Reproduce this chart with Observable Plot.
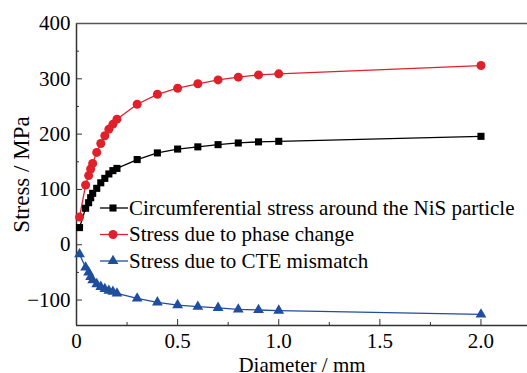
<!DOCTYPE html>
<html>
<head>
<meta charset="utf-8">
<script src="https://cdn.jsdelivr.net/npm/d3@7"></script>
<script src="https://cdn.jsdelivr.net/npm/@observablehq/plot@0.6"></script>
<style>
  html, body { margin: 0; padding: 0; background: #fff; }
  #chart svg { display: block; }
</style>
</head>
<body>
<div id="chart"></div>
<script>
// Diameter (mm)
const diameter = [0.015, 0.045, 0.06, 0.07, 0.08, 0.1, 0.12, 0.14, 0.16, 0.18, 0.2, 0.3, 0.4, 0.5, 0.6, 0.7, 0.8, 0.9, 1.0, 2.0];
// Stress series (MPa)
const circumferential = [31, 66, 76, 85, 93, 102, 112, 120, 128, 134, 138, 154, 166, 173, 177, 181, 184, 186, 187, 196];
const phaseChange = [50, 108, 125, 137, 147, 167, 183, 197, 209, 218, 227, 254, 272, 283, 291, 298, 303, 307, 309, 324];
const cteMismatch = [-17, -41, -50, -58, -64, -71, -76, -80, -83, -85, -88, -97, -104, -109, -112, -114, -117, -118, -119, -126];

const seriesNames = ["Circumferential stress around the NiS particle", "Stress due to phase change", "Stress due to CTE mismatch"];
const seriesColors = ["#000000", "#e0202b", "#1f4e9f"];
const seriesSymbols = ["square", "circle", "triangle"];
const seriesR = [4, 4.5, 4];

const xMajorTicks = [0, 0.5, 1.0, 1.5, 2.0];
const xMinorTicks = [0.25, 0.75, 1.25, 1.75];
const yMajorTicks = [-100, 0, 100, 200, 300, 400];
const yMinorTicks = [-50, 50, 150, 250, 350];
const xDomain = [0, 2.23];
const yDomain = [-146, 400];

const allSeries = [circumferential, phaseChange, cteMismatch];
const data = [];
allSeries.forEach((vals, s) => {
  vals.forEach((v, i) => data.push({series: seriesNames[s], x: diameter[i], y: v}));
});

const W = 527, H = 373;
const mL = 76, mR = 0, mT = 23, mB = 48;
const frameH = H - mT - mB;
const frameW = W - mL - mR;
const font = "Liberation Serif, Times New Roman, serif";
const axisColor = "#333";

const colorScale = {domain: seriesNames, range: seriesColors};
const symbolScale = {domain: seriesNames, range: seriesSymbols};

function legendMark(index, scales, values, dims) {
  const g = d3.create("svg:g").attr("text-anchor", "start");
  const rowStep = 26.5;
  seriesNames.forEach((name, i) => {
    const cy = dims.marginTop + 185 + i * rowStep;
    const x0 = dims.marginLeft + 24, x1 = dims.marginLeft + 52, xm = dims.marginLeft + 37;
    g.append("line").attr("x1", x0).attr("x2", x1).attr("y1", cy).attr("y2", cy)
      .attr("stroke", seriesColors[i]).attr("stroke-width", 1.3);
    const symType = {square: d3.symbolSquare, circle: d3.symbolCircle, triangle: d3.symbolTriangle}[seriesSymbols[i]];
    g.append("path").attr("d", d3.symbol(symType, Math.PI * seriesR[i] * seriesR[i])())
      .attr("transform", `translate(${xm},${cy})`).attr("fill", seriesColors[i]);
    g.append("text").attr("x", x1 + 1).attr("y", cy).attr("dy", "0.33em")
      .attr("text-anchor", "start")
      .style("font-family", font)
      .style("font-size", "21px").attr("fill", "#000").text(name);
  });
  return g.node();
}

const fmtY = d => d < 0 ? "\u2212" + Math.abs(d) : String(d);
const fmtX = d => d === 0 ? "0" : d.toFixed(1);

const chart = Plot.plot({
  width: W, height: H,
  marginLeft: mL, marginRight: mR, marginTop: mT, marginBottom: mB,
  style: {fontFamily: font, fontSize: "21px", background: "#fff", color: "#000", overflow: "visible"},
  x: {domain: xDomain},
  y: {domain: yDomain},
  color: colorScale,
  symbol: symbolScale,
  marks: [
    Plot.axisX({ticks: xMajorTicks, tickSize: 0, tickPadding: 8, tickFormat: fmtX, label: null, fontSize: 21}),
    Plot.axisX({ticks: [], label: "Diameter / mm", labelAnchor: "center", labelOffset: 46, labelArrow: "none", fontSize: 21}),
    Plot.axisY({ticks: yMajorTicks, tickSize: 0, tickPadding: 6, tickFormat: fmtY, label: null, fontSize: 21}),
    Plot.axisY({ticks: [], label: "Stress / MPa", labelAnchor: "center", labelOffset: 64, labelArrow: "none", fontSize: 23}),
    Plot.tickX(xMajorTicks, {x: d => d, insetTop: frameH - 6, stroke: axisColor, strokeWidth: 1}),
    Plot.tickX(xMinorTicks, {x: d => d, insetTop: frameH - 3, stroke: axisColor, strokeWidth: 1}),
    Plot.tickY(yMajorTicks, {y: d => d, insetRight: frameW - 6, stroke: axisColor, strokeWidth: 1}),
    Plot.tickY(yMinorTicks, {y: d => d, insetRight: frameW - 3, stroke: axisColor, strokeWidth: 1}),
    Plot.ruleX([xDomain[0]], {stroke: axisColor, strokeWidth: 1.5}),
    Plot.ruleY([yDomain[0]], {stroke: axisColor, strokeWidth: 1.5}),
    Plot.ruleY([yDomain[1]], {stroke: "#555", strokeWidth: 1.5}),
    Plot.line(data, {x: "x", y: "y", z: "series", stroke: "series", strokeWidth: 1.3}),
    Plot.dot(data.filter(d => d.series === seriesNames[0]), {x: "x", y: "y", symbol: "series", fill: "series", r: seriesR[0], stroke: null}),
    Plot.dot(data.filter(d => d.series === seriesNames[1]), {x: "x", y: "y", symbol: "series", fill: "series", r: seriesR[1], stroke: null}),
    Plot.dot(data.filter(d => d.series === seriesNames[2]), {x: "x", y: "y", symbol: "series", fill: "series", r: seriesR[2], stroke: null}),
    legendMark
  ]
});
document.getElementById("chart").appendChild(chart);
</script>
</body>
</html>
